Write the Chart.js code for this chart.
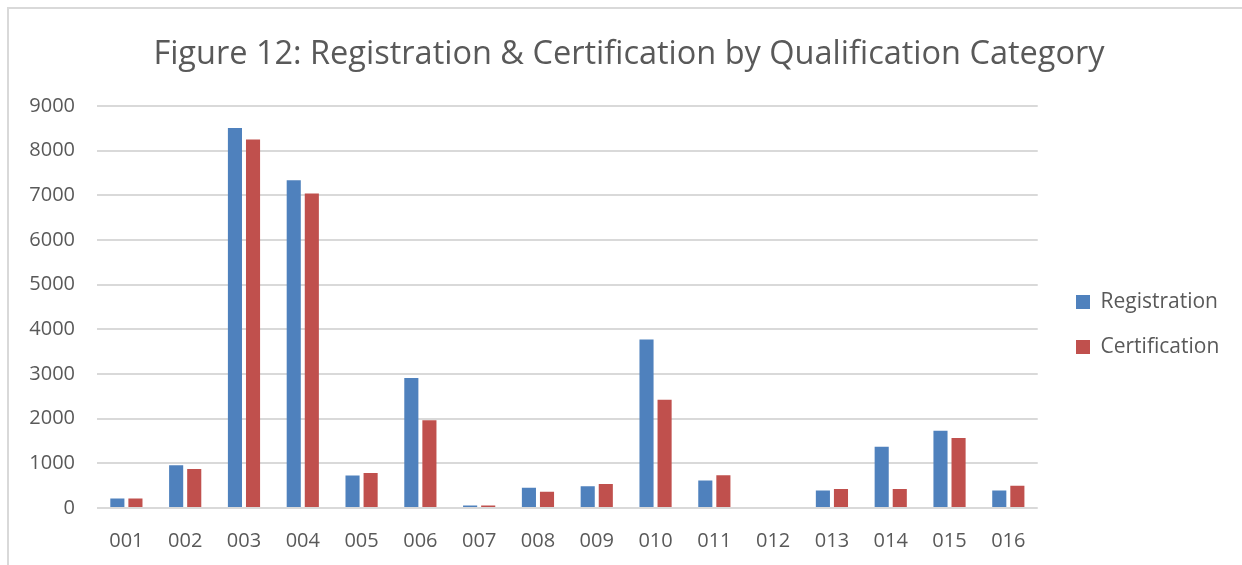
<!DOCTYPE html>
<html>
<head>
<meta charset="utf-8">
<script src="https://cdn.jsdelivr.net/npm/chart.js@4/dist/chart.umd.min.js"></script>
<style>
  html, body { margin: 0; padding: 0; background: #ffffff; overflow: hidden; }
  #wrap { position: relative; width: 1242px; height: 565px; }
  #frame { position: absolute; left: 7px; top: 7px; width: 1300px; height: 600px;
           border-top: 2px solid #D9D9D9; border-left: 2px solid #D9D9D9; box-sizing: border-box; }
  canvas { position: absolute; left: 0; top: 0; }
</style>
</head>
<body>
<div id="wrap">
  <div id="frame"></div>
  <canvas id="chart" width="1242" height="565"></canvas>
</div>
<script>
// Qualification categories
const categories = ['001','002','003','004','005','006','007','008','009','010','011','012','013','014','015','016'];

// Learner counts per category
const registration  = [215, 955, 8510, 7335, 730, 2910, 55, 455, 485, 3770, 615, 0, 390, 1370, 1730, 390];
const certification = [215, 875, 8250, 7040, 785, 1965, 55, 365, 540, 2425, 735, 0, 425, 425, 1565, 500];

// Value axis ticks
const yTicks = [0, 1000, 2000, 3000, 4000, 5000, 6000, 7000, 8000, 9000];

const FONT = '"Open Sans", Lato, sans-serif';
const TEXT = '#595959';

// Positions the title over the chart frame and the legend beside the plot area
const blockPlacement = {
  id: 'blockPlacement',
  afterLayout(chart) {
    const tb = chart.titleBlock;
    tb.left = 44; tb.right = 1214;

    const lg = chart.legend;
    const w = lg.width, h = lg.height;
    lg.left = 1052; lg.right = lg.left + w;
    const mid = 324.5;
    lg.top = mid - h / 2; lg.bottom = lg.top + h;
  }
};

new Chart(document.getElementById('chart'), {
  type: 'bar',
  data: {
    labels: categories,
    datasets: [
      { label: 'Registration', data: registration, backgroundColor: '#4F81BD' },
      { label: 'Certification', data: certification, backgroundColor: '#C0504D' }
    ]
  },
  options: {
    responsive: false,
    animation: false,
    devicePixelRatio: 1,
    layout: { padding: { left: 0, right: 27, top: 0, bottom: 0 } },
    datasets: { bar: { categoryPercentage: 0.615, barPercentage: 0.78 } },
    plugins: {
      title: {
        display: true,
        text: 'Figure 12: Registration & Certification by Qualification Category',
        color: TEXT,
        font: { family: FONT, size: 32.5, weight: 'normal' },
        padding: { top: 35, bottom: 32 }
      },
      legend: {
        position: 'right',
        labels: {
          color: TEXT,
          font: { family: FONT, size: 21 },
          boxWidth: 14, boxHeight: 14,
          padding: 24
        }
      },
      tooltip: { enabled: false }
    },
    scales: {
      x: {
        grid: { display: false },
        border: { display: false },
        ticks: { color: TEXT, font: { family: FONT, size: 20 }, padding: 13, maxRotation: 0 },
        afterFit(scale) { scale.height = 57; }
      },
      y: {
        min: 0, max: 9000,
        afterBuildTicks(scale) { scale.ticks = yTicks.map(v => ({ value: v })); },
        grid: { color: '#D9D9D9', lineWidth: 2, drawTicks: false },
        border: { display: false },
        ticks: { color: TEXT, font: { family: FONT, size: 20 }, padding: 22,
                 callback: v => String(v) },
        afterFit(scale) { scale.width = 97; }
      }
    }
  },
  plugins: [blockPlacement]
});
</script>
</body>
</html>
